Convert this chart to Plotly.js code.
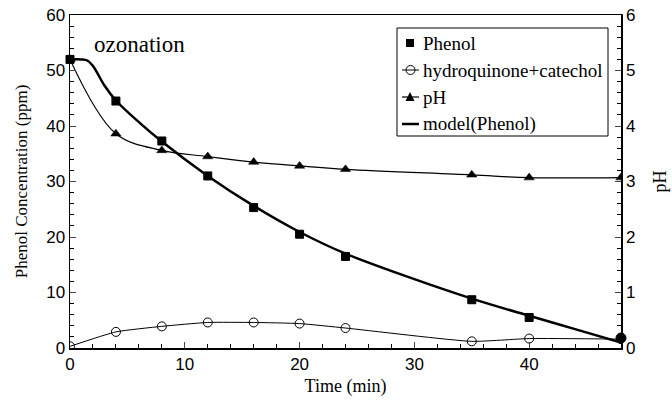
<!DOCTYPE html>
<html>
<head>
<meta charset="utf-8">
<script src="https://cdn.plot.ly/plotly-3.0.1.min.js"></script>
<style>html,body{margin:0;padding:0;background:#fff;}#chart{width:672px;height:404px;}</style>
</head>
<body>
<div id="chart"></div>
<script>
const timePhenol = [0, 4, 8, 12, 16, 20, 24, 35, 40, 48];
const phenol = [52, 44.5, 37.3, 31, 25.3, 20.5, 16.5, 8.7, 5.5, 1.8];
const timeHQ = [0, 4, 8, 12, 16, 20, 24, 35, 40, 48];
const hydroquinone = [0.3, 2.9, 3.9, 4.6, 4.6, 4.4, 3.6, 1.2, 1.7, 1.6];
const timePH = [0, 4, 8, 12, 16, 20, 24, 35, 40, 48];
const pH = [5.2, 3.86, 3.56, 3.45, 3.35, 3.28, 3.22, 3.12, 3.07, 3.07];
const timeModel = [0, 1, 1.5, 2, 3, 4, 6, 8, 12, 16, 20, 24, 30, 35, 40, 44, 48];
const model = [52, 52, 51.8, 50.8, 47.3, 44.6, 40.7, 37.2, 31, 25.6, 20.9, 17, 12.4, 8.9, 5.8, 3.4, 1.0];
const phenolSymbols = ['square','square','square','square','square','square','square','square','square','circle'];
const phenolSizes = [8, 8, 8, 8, 8, 8, 8, 8, 8, 10];
const legendLabels = ['Phenol', 'hydroquinone+catechol', 'pH', 'model(Phenol)'];

const serif = 'Liberation Serif';
const sans = 'Liberation Sans';

const traces = [
  {x: timeHQ, y: hydroquinone, name: legendLabels[1], mode: 'lines+markers', type: 'scatter',
   line: {color: '#000', width: 1, shape: 'spline', smoothing: 0.5},
   marker: {symbol: 'circle-open', size: 9, color: '#000', line: {width: 1, color: '#000'}}},
  {x: timePH, y: pH, name: legendLabels[2], mode: 'lines+markers', type: 'scatter', yaxis: 'y2',
   line: {color: '#000', width: 1.2, shape: 'spline'},
   marker: {symbol: 'triangle-up', size: 9, color: '#000', line: {width: 0.5, color: '#000'}}},
  {x: timeModel, y: model, name: legendLabels[3], mode: 'lines', type: 'scatter',
   line: {color: '#000', width: 2.5, shape: 'spline'}},
  {x: timePhenol, y: phenol, name: legendLabels[0], mode: 'markers', type: 'scatter', cliponaxis: false,
   marker: {symbol: phenolSymbols, size: phenolSizes, color: '#000', opacity: 1, line: {width: 1, color: '#000'}}}
];

// plot area in pixels: left 70, right 621, top 15, bottom 348
const PX = px => (px - 70) / 551;
const PY = py => (348 - py) / 333;

const rowY = [43, 70, 97, 124];
const shapes = [
  {type: 'rect', xref: 'paper', yref: 'paper', x0: PX(397), x1: PX(608), y0: PY(136), y1: PY(28),
   line: {color: '#000', width: 1}, fillcolor: '#fff', layer: 'above'},
  {type: 'rect', xref: 'paper', yref: 'paper', x0: PX(406), x1: PX(414), y0: PY(rowY[0] + 4), y1: PY(rowY[0] - 4),
   line: {width: 0}, fillcolor: '#000', layer: 'above'},
  {type: 'line', xref: 'paper', yref: 'paper', x0: PX(402), x1: PX(419), y0: PY(rowY[1]), y1: PY(rowY[1]),
   line: {color: '#000', width: 1}, layer: 'above'},
  {type: 'circle', xref: 'paper', yref: 'paper', x0: PX(406), x1: PX(415), y0: PY(rowY[1] + 4.5), y1: PY(rowY[1] - 4.5),
   line: {color: '#000', width: 1}, fillcolor: 'rgba(0,0,0,0)', layer: 'above'},
  {type: 'line', xref: 'paper', yref: 'paper', x0: PX(402), x1: PX(419), y0: PY(rowY[2]), y1: PY(rowY[2]),
   line: {color: '#000', width: 1.2}, layer: 'above'},
  {type: 'path', xref: 'paper', yref: 'paper',
   path: 'M ' + PX(405.5) + ' ' + PY(rowY[2] + 4) + ' L ' + PX(414.5) + ' ' + PY(rowY[2] + 4) + ' L ' + PX(410) + ' ' + PY(rowY[2] - 5) + ' Z',
   line: {width: 0}, fillcolor: '#000', layer: 'above'},
  {type: 'line', xref: 'paper', yref: 'paper', x0: PX(402), x1: PX(419), y0: PY(rowY[3]), y1: PY(rowY[3]),
   line: {color: '#000', width: 2.5}, layer: 'above'}
];

const annotations = [{text: 'ozonation', xref: 'paper', yref: 'paper', x: PX(92), y: PY(44),
  xanchor: 'left', yanchor: 'middle', showarrow: false,
  font: {family: serif, size: 23, color: '#000'}}];
legendLabels.forEach((t, i) => annotations.push({
  text: t, xref: 'paper', yref: 'paper', x: PX(421), y: PY(rowY[i]),
  xanchor: 'left', yanchor: 'middle', showarrow: false,
  font: {family: serif, size: 19, color: '#000'}
}));

const layout = {
  width: 672, height: 404,
  margin: {l: 70, r: 51, t: 15, b: 56},
  paper_bgcolor: '#fff', plot_bgcolor: '#fff',
  showlegend: false,
  xaxis: {range: [0, 48], dtick: 10, tick0: 0, ticks: 'inside', ticklen: 6, tickwidth: 1,
    showline: true, linecolor: '#000', linewidth: 1.5, mirror: true, showgrid: false, zeroline: false,
    minor: {ticks: 'inside', dtick: 2, ticklen: 4, tickcolor: '#000'},
    tickfont: {family: sans, size: 17, color: '#000'},
    title: {text: 'Time (min)', font: {family: serif, size: 18, color: '#000'}, standoff: 6}},
  yaxis: {range: [0, 60], dtick: 10, ticks: 'inside', ticklen: 6, tickwidth: 1,
    showline: true, linecolor: '#000', linewidth: 1.5, showgrid: false, zeroline: false,
    minor: {ticks: 'inside', dtick: 2, ticklen: 4, tickcolor: '#000'},
    tickfont: {family: sans, size: 17, color: '#000'},
    title: {text: 'Phenol Concentration (ppm)', font: {family: serif, size: 17, color: '#000'}, standoff: 14}},
  yaxis2: {range: [0, 6], dtick: 1, overlaying: 'y', side: 'right', ticks: 'inside', ticklen: 6, tickwidth: 1,
    showline: true, linecolor: '#000', linewidth: 1.5, showgrid: false, zeroline: false,
    minor: {ticks: 'inside', dtick: 0.2, ticklen: 4, tickcolor: '#000'},
    tickfont: {family: sans, size: 17, color: '#000'},
    title: {text: 'pH', font: {family: serif, size: 18, color: '#000'}, standoff: 19}},
  shapes: shapes,
  annotations: annotations
};

Plotly.newPlot('chart', traces, layout, {displayModeBar: false, staticPlot: true});
</script>
</body>
</html>
